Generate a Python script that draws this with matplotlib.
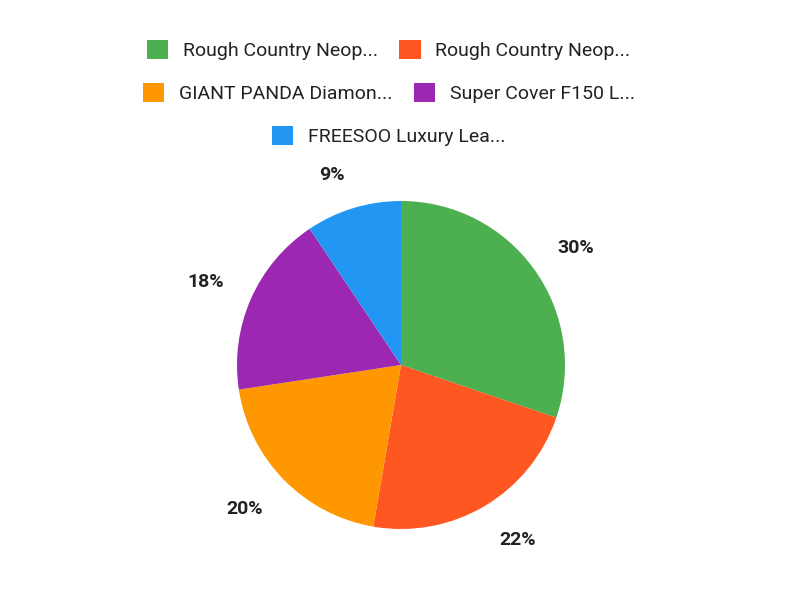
import numpy as np
import matplotlib.pyplot as plt
from matplotlib.patches import Patch

plt.rcParams['font.family'] = ['Roboto', 'DejaVu Sans']

# Slice data
labels = ['Rough Country Neop...', 'Rough Country Neop...', 'GIANT PANDA Diamon...',
          'Super Cover F150 L...', 'FREESOO Luxury Lea...']
values = [30.2, 22.5, 19.9, 18.0, 9.4]
colors = ['#4CAF50', '#FF5722', '#FF9800', '#9C27B0', '#2196F3']

fig = plt.figure(figsize=(8, 6), dpi=100)

# Pie axes placed where the chart sits in the reference
cx, cy, r = 401, 365, 164
ax = fig.add_axes([(cx - r) / 800, (600 - cy - r) / 600, 2 * r / 800, 2 * r / 600])
wedges, texts = ax.pie(values, colors=colors, startangle=90, counterclock=False,
                       radius=1, wedgeprops=dict(linewidth=0))
ax.set_xlim(-1, 1)
ax.set_ylim(-1, 1)
ax.set_aspect('equal')
ax.axis('off')

# percentage labels: corner of the text sits on a ring just outside the pie
total = sum(values)
ring = 193 / r
for w, v in zip(wedges, values):
    a = np.deg2rad((w.theta1 + w.theta2) / 2)
    sx, sy = np.sign(np.cos(a)), np.sign(np.sin(a))
    ax.annotate(f'{v / total * 100:.0f}%', xy=(ring * np.cos(a), ring * np.sin(a)),
                xytext=(0, sy * 5), textcoords='offset points',
                ha='left' if sx > 0 else 'right', va='center_baseline',
                fontsize=14, fontweight='bold', color='#222222', annotation_clip=False)

# Legend in three centred rows
rows = [[0, 1], [2, 3], [4]]
ys = [1 - 50 / 600, 1 - 93 / 600, 1 - 136 / 600]
for row, y in zip(rows, ys):
    handles = [Patch(facecolor=colors[i], edgecolor='none') for i in row]
    leg = fig.legend(handles, [labels[i] for i in row], loc='center', bbox_to_anchor=(0.486, y),
                     ncol=len(row), frameon=False, fontsize=14, handlelength=1.1, handleheight=1.1,
                     handletextpad=0.75, columnspacing=1.1, borderpad=0)
    for t in leg.get_texts():
        t.set_color('#222222')

fig.savefig('out.png', dpi=100)
